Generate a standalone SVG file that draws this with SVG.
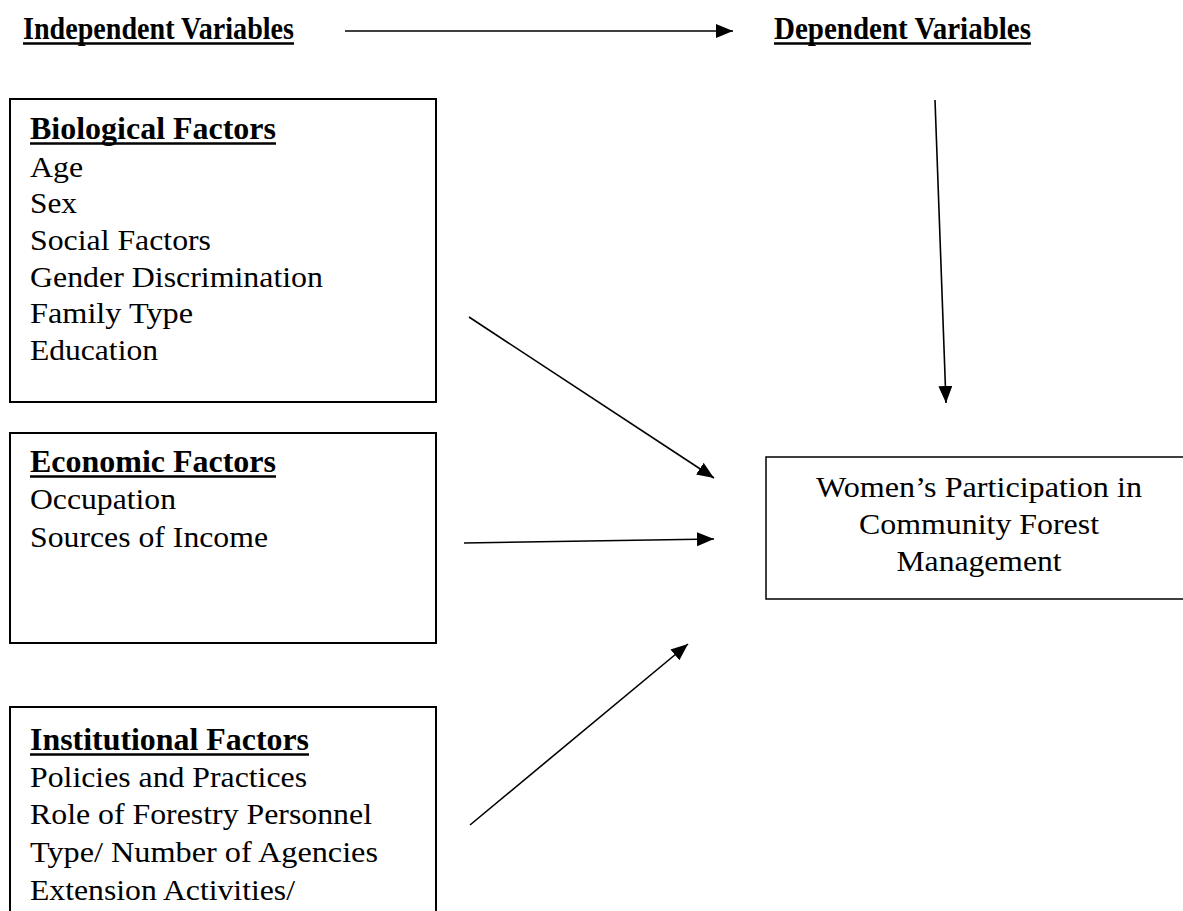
<svg xmlns="http://www.w3.org/2000/svg" width="1183" height="911" viewBox="0 0 1183 911">
<style>
  text { font-family: 'Liberation Serif', serif; fill: #000; }
  .hd { font-size: 32px; font-weight: bold; }
  .bt { font-size: 30px; }
  .box { fill: #fff; stroke: #000; stroke-width: 2; }
  .ul { stroke: #000; stroke-width: 2.6; }
  .conn { stroke: #000; stroke-width: 1.6; fill: none; marker-end: url(#ah); }
</style>
<defs>
  <marker id="ah" markerUnits="userSpaceOnUse" markerWidth="18" markerHeight="15" refX="17" refY="7" orient="auto">
    <path d="M0,0 L17,7 L0,14 z" fill="#000"/>
  </marker>
</defs>
<rect width="1183" height="911" fill="#fff"/>

<g id="header-independent">
  <text class="hd" x="23" y="39" textLength="271" lengthAdjust="spacingAndGlyphs">Independent Variables</text>
  <line class="ul" x1="23" y1="43.5" x2="294" y2="43.5"/>
</g>
<g id="header-dependent">
  <text class="hd" x="774" y="39" textLength="257" lengthAdjust="spacingAndGlyphs">Dependent Variables</text>
  <line class="ul" x1="774" y1="43.5" x2="1031" y2="43.5"/>
</g>

<g id="biological">
  <rect class="box" x="10" y="99" width="426" height="303"/>
  <text class="hd" x="30" y="139" textLength="246" lengthAdjust="spacingAndGlyphs">Biological Factors</text>
  <line class="ul" x1="30" y1="143.5" x2="276" y2="143.5"/>
  <text class="bt" x="30" y="177" textLength="53" lengthAdjust="spacingAndGlyphs">Age</text>
  <text class="bt" x="30" y="213" textLength="47" lengthAdjust="spacingAndGlyphs">Sex</text>
  <text class="bt" x="30" y="250" textLength="181" lengthAdjust="spacingAndGlyphs">Social Factors</text>
  <text class="bt" x="30" y="287" textLength="293" lengthAdjust="spacingAndGlyphs">Gender Discrimination</text>
  <text class="bt" x="30" y="323" textLength="163" lengthAdjust="spacingAndGlyphs">Family Type</text>
  <text class="bt" x="30" y="360" textLength="128" lengthAdjust="spacingAndGlyphs">Education</text>
</g>

<g id="economic">
  <rect class="box" x="10" y="433" width="426" height="210"/>
  <text class="hd" x="30" y="472" textLength="246" lengthAdjust="spacingAndGlyphs">Economic Factors</text>
  <line class="ul" x1="30" y1="476.5" x2="276" y2="476.5"/>
  <text class="bt" x="30" y="509" textLength="146" lengthAdjust="spacingAndGlyphs">Occupation</text>
  <text class="bt" x="30" y="547" textLength="238" lengthAdjust="spacingAndGlyphs">Sources of Income</text>
</g>

<g id="institutional">
  <rect class="box" x="10" y="707" width="426" height="220"/>
  <text class="hd" x="30" y="750" textLength="279" lengthAdjust="spacingAndGlyphs">Institutional Factors</text>
  <line class="ul" x1="30" y1="754.5" x2="309" y2="754.5"/>
  <text class="bt" x="30" y="787" textLength="277" lengthAdjust="spacingAndGlyphs">Policies and Practices</text>
  <text class="bt" x="30" y="824" textLength="342" lengthAdjust="spacingAndGlyphs">Role of Forestry Personnel</text>
  <text class="bt" x="30" y="862" textLength="348" lengthAdjust="spacingAndGlyphs">Type/ Number of Agencies</text>
  <text class="bt" x="30" y="900" textLength="265" lengthAdjust="spacingAndGlyphs">Extension Activities/</text>
</g>

<g id="participation">
  <rect class="box" x="766" y="457" width="430" height="142" style="stroke-width:1.5"/>
  <text class="bt" x="979" y="497" text-anchor="middle" textLength="326" lengthAdjust="spacingAndGlyphs">Women’s Participation in</text>
  <text class="bt" x="979" y="534" text-anchor="middle" textLength="240" lengthAdjust="spacingAndGlyphs">Community Forest</text>
  <text class="bt" x="979" y="571" text-anchor="middle" textLength="165" lengthAdjust="spacingAndGlyphs">Management</text>
</g>

<g id="connectors">
  <line class="conn" x1="345" y1="31" x2="733" y2="31"/>
  <line class="conn" x1="935" y1="100" x2="946" y2="403"/>
  <line class="conn" x1="469" y1="317" x2="714" y2="478"/>
  <line class="conn" x1="464" y1="543" x2="714" y2="539"/>
  <line class="conn" x1="470" y1="825" x2="688" y2="644"/>
</g>
</svg>
